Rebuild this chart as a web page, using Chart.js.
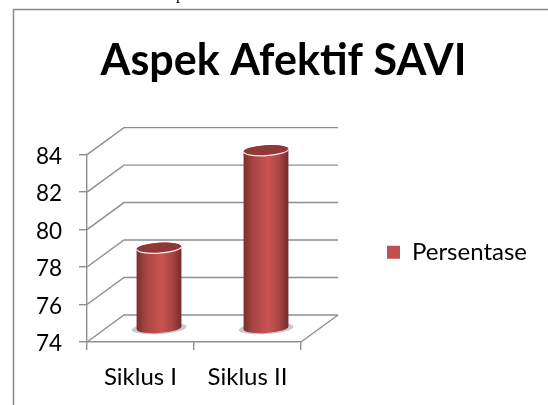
<!DOCTYPE html>
<html><head><meta charset="utf-8">
<style>html,body{margin:0;padding:0;background:#fff}#w{position:relative;width:548px;height:405px;overflow:hidden}canvas{display:block}</style>
<script src="https://cdn.jsdelivr.net/npm/chart.js@4"></script></head>
<body><div id="w"><canvas id="c" width="548" height="405"></canvas></div>
<script>
const categories = ["Siklus I", "Siklus II"];
const seriesName = "Persentase";
const seriesValues = [78.3, 83.5];
const chartTitle = "Aspek Afektif SAVI";
const axisMin = 74, axisMax = 84, axisStep = 2;
const depthX = 37, depthY = 27;
const gridColor = "#8e8e8e";
const font = "Lato, Carlito, 'Open Sans', sans-serif";

const frame3d = {
  id: "frame3d",
  afterLayout(chart) {
    const l = chart.legend;
    l.left -= 11; l.right -= 11; l.top += 4; l.bottom += 4;
  },
  beforeDraw(chart) {
    const c = chart.ctx, a = chart.chartArea, y = chart.scales.y;
    c.save();
    c.fillStyle = "#000"; c.font = "16px 'Liberation Serif'"; c.textBaseline = "alphabetic";
    c.fillText("p", 176, -1);
    c.strokeStyle = "#8a8a8a"; c.lineWidth = 1.5;
    c.beginPath(); c.moveTo(13.5, 405); c.lineTo(13.5, 9.5); c.lineTo(548, 9.5); c.stroke();
    c.strokeStyle = gridColor; c.lineWidth = 1.4;
    y.ticks.forEach(t => {
      const py = y.getPixelForValue(t.value);
      c.beginPath();
      c.moveTo(a.left, py);
      c.lineTo(a.left + depthX, py - depthY);
      c.lineTo(a.right + depthX, py - depthY);
      c.stroke();
    });
    c.beginPath();
    c.moveTo(a.right, a.bottom); c.lineTo(a.right + depthX, a.bottom - depthY);
    c.stroke();
    c.restore();
  }
};

function cylinder(c, x, top, base, w) {
  const rx = w / 2, ry = 5.2, tilt = -0.06;
  c.save();
  c.fillStyle = "#c9c9c9";
  c.beginPath(); c.ellipse(x, base + 0.5, rx + 5, ry + 0.5, tilt, 0, Math.PI * 2); c.fill();
  const g = c.createLinearGradient(x - rx, 0, x + rx, 0);
  g.addColorStop(0, "#7c2f2d");
  g.addColorStop(0.22, "#a84543");
  g.addColorStop(0.55, "#cb5452");
  g.addColorStop(0.8, "#a84543");
  g.addColorStop(1, "#742b2a");
  c.fillStyle = g;
  c.beginPath();
  c.ellipse(x, base, rx, ry, tilt, Math.PI, 0, true);
  c.ellipse(x, top, rx, ry, tilt, 0, Math.PI, true);
  c.closePath(); c.fill();
  c.fillStyle = "#8f3836";
  c.beginPath(); c.ellipse(x, top, rx, ry, tilt, 0, Math.PI * 2); c.fill();
  c.strokeStyle = "#f4eeee"; c.lineWidth = 1.2;
  c.beginPath(); c.ellipse(x, top, rx, ry, tilt, 0, Math.PI); c.stroke();
  c.restore();
}

const cylinders = {
  id: "cylinders",
  beforeDatasetDraw(chart, args) {
    chart.getDatasetMeta(args.index).data.forEach(b => {
      cylinder(chart.ctx, b.x + depthX / 2, b.y - depthY / 2, b.base - depthY / 2, b.width);
    });
    return false;
  }
};

new Chart(document.getElementById("c"), {
  type: "bar",
  data: { labels: categories, datasets: [{ label: seriesName, data: seriesValues, base: axisMin, backgroundColor: "#c0504d", barPercentage: 0.42, categoryPercentage: 1 }] },
  plugins: [frame3d, cylinders],
  options: {
    responsive: false, animation: false,
    devicePixelRatio: 1,
    layout: { padding: { left: 19, right: 0, top: 35, bottom: 0 } },
    plugins: {
      tooltip: { enabled: false },
      title: { display: true, text: chartTitle, color: "#000", font: { family: font, size: 43, weight: "bold" }, padding: { top: 0, bottom: 68 } },
      legend: { position: "right", fullSize: false, maxWidth: 200, labels: { color: "#000", font: { family: font, size: 24 }, boxWidth: 13, boxHeight: 13, padding: 0 } }
    },
    scales: {
      x: { grid: { display: true, drawOnChartArea: false, tickLength: 8, color: gridColor, lineWidth: 1.4 }, border: { color: gridColor, width: 1.4 }, ticks: { color: "#000", font: { family: font, size: 24 }, padding: 13, maxRotation: 0 }, afterFit(s) { s.height = 63; } },
      y: { min: axisMin, max: axisMax, grid: { drawOnChartArea: false, tickLength: 8, color: gridColor, lineWidth: 1.4 }, border: { color: gridColor, width: 1.4 }, ticks: { stepSize: axisStep, color: "#000", font: { family: font, size: 22.5 }, padding: 17, labelOffset: 2 }, afterFit(s) { s.width = 68; } },
      y2: { position: "right", display: true, min: axisMin, max: axisMax, grid: { display: false }, border: { display: false }, ticks: { display: false }, afterFit(s) { s.width = 97; } }
    }
  }
});
</script></body></html>
